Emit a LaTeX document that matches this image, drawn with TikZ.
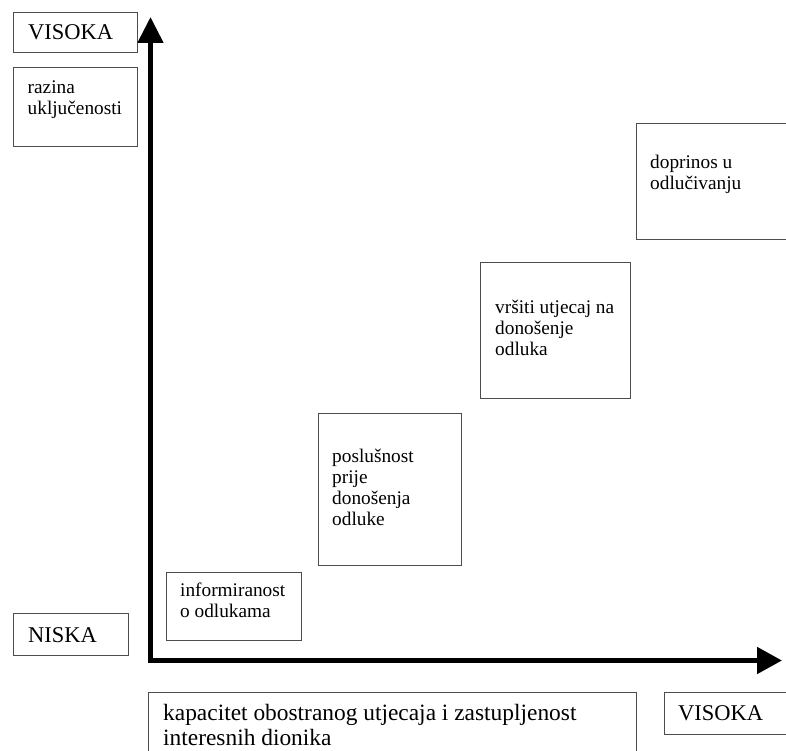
\documentclass[tikz,border=0pt]{standalone}
\usepackage{fontspec}
\setmainfont{Liberation Serif}
\usetikzlibrary{arrows.meta}
\tikzset{
  box/.style={draw=black!70, line width=1pt, inner sep=0pt, anchor=north west, fill=none},
  txt/.style={anchor=base west, inner sep=0pt, align=left, font=\fontsize{19.3}{21}\selectfont},
  head/.style={anchor=base west, inner sep=0pt, align=left, font=\fontsize{22.5}{25}\selectfont},
  big/.style={anchor=base west, inner sep=0pt, align=left, font=\fontsize{23.4}{25.5}\selectfont},
  axis/.style={line width=5pt, line join=miter, {Triangle[width=25pt,length=26pt]}-{Triangle[width=26pt,length=25pt]}}
}
\begin{document}
\begin{tikzpicture}[x=1pt,y=-1pt]
\clip (0,0) rectangle (786,751);
\fill[white] (0,0) rectangle (786,751);
% boxes (text nodes are placed at the baseline of their last line)
\node[box, minimum width=124pt, minimum height=40pt] (bvis) at (13,12) {};
\node[head] (tvis) at (28,40) {VISOKA};
\node[box, minimum width=124pt, minimum height=79pt] (braz) at (13,67) {};
\node[txt] (traz) at (27.5,115) {razina\\uključenosti};
\node[box, minimum width=115pt, minimum height=42pt] (bnis) at (13,613) {};
\node[head] (tnis) at (28,642) {NISKA};
\node[box, minimum width=135pt, minimum height=68pt] (binf) at (166,572) {};
\node[txt] (tinf) at (180,617) {informiranost\\o odlukama};
\node[box, minimum width=143pt, minimum height=152pt] (bpos) at (318,413) {};
\node[txt] (tpos) at (332,525) {poslušnost\\prije\\donošenja\\odluke};
\node[box, minimum width=150pt, minimum height=136pt] (bvrs) at (480,262) {};
\node[txt] (tvrs) at (495,355) {vršiti utjecaj na\\donošenje\\odluka};
\node[box, minimum width=170pt, minimum height=116pt] (bdop) at (636,123) {};
\node[txt] (tdop) at (650,190) {doprinos u\\odlučivanju};
\node[box, minimum width=488pt, minimum height=80pt] (bkap) at (148,692) {};
\node[big] (tkap) at (163,745.5) {kapacitet obostranog utjecaja i zastupljenost\\interesnih dionika};
\node[box, minimum width=140pt, minimum height=42pt] (bvis2) at (664,692) {};
\node[head] (tvis2) at (678,720) {VISOKA};
% axes
\coordinate (ytip) at (150.5,17);
\coordinate (origin) at (150.5,660.5);
\coordinate (xtip) at (782,660.5);
\draw[axis] (ytip) -- (origin) -- (xtip);
\end{tikzpicture}
\end{document}
